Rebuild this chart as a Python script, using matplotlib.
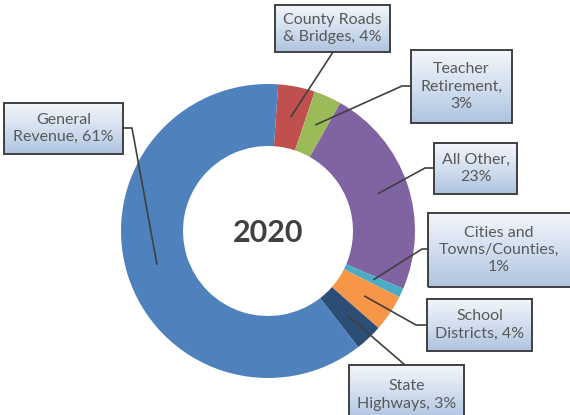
import numpy as np
import matplotlib
matplotlib.use('Agg')
import matplotlib.pyplot as plt
from matplotlib.colors import LinearSegmentedColormap
from matplotlib.patches import Rectangle

# Slices in clockwise order starting just right of 12 o'clock
categories = ['County Roads\n& Bridges', 'Teacher\nRetirement', 'All Other',
              'Cities and\nTowns/Counties', 'School\nDistricts', 'State\nHighways',
              'General\nRevenue']
shares = [4, 3, 23, 1, 4, 3, 61]
separators = [', ', ',\n', ',\n', ',\n', ', ', ', ', ', ']
colors = ['#C0504D', '#9BBB59', '#8064A2', '#4BACC6', '#F79646', '#2C4D75', '#4F81BD']

W, H = 570, 415
fig = plt.figure(figsize=(W / 100, H / 100), dpi=100)
ax = fig.add_axes([0, 0, 1, 1])

cx, cy, R, ring = 268, H - 231, 147, 62
start = 86
wedges, _ = ax.pie(shares, colors=colors, startangle=start, counterclock=False,
                   radius=R, center=(cx, cy),
                   wedgeprops=dict(width=ring, linewidth=0))
ax.set_xlim(0, W)
ax.set_ylim(0, H)
ax.axis('off')

ax.text(cx, cy - 2, '2020', ha='center', va='center', fontsize=22,
        fontweight='bold', color='#404040', family=['Lato', 'DejaVu Sans'])

# label boxes (left, top, right, bottom in pixels from top-left) and leader routes
boxes = [(275, 5, 390, 52), (411, 50, 512, 123), (434, 143, 517, 194),
         (428, 213, 575, 287), (427, 299, 532, 351), (349, 365, 464, 420),
         (4, 103, 123, 154)]
routes = [[(333, 52)], [(402, 86), (411, 86)], [(425, 168), (434, 168)],
          [(422, 249), (428, 249)], [(416, 325), (427, 325)], [(405, 365)],
          [(132, 128), (123, 128)]]

grad = np.linspace(0, 1, 64).reshape(-1, 1)
cmap = LinearSegmentedColormap.from_list('box', ['#F3F6FB', '#D3DFEF', '#AFC4E1'])

total = sum(shares)
cum = np.cumsum([0] + shares)
for i, (name, v) in enumerate(zip(categories, shares)):
    mid = np.deg2rad(start - 360 * (cum[i] + v / 2) / total)
    r_mid = R - ring / 2
    ax0 = cx + r_mid * np.cos(mid)
    ay0 = cy + r_mid * np.sin(mid)
    xs = [ax0] + [p[0] for p in routes[i]]
    ys = [ay0] + [H - p[1] for p in routes[i]]
    ax.plot(xs, ys, color='#404040', lw=1.2, zorder=3, solid_capstyle='butt')

    l, t, r, b = boxes[i]
    ax.imshow(grad, extent=[l, r, H - b, H - t], cmap=cmap, aspect='auto',
              origin='upper', zorder=4)
    ax.add_patch(Rectangle((l, H - b), r - l, b - t, fill=False,
                           edgecolor='#404040', lw=1.4, zorder=5))
    cyb = H - (b + t) / 2 if b <= H else H - (t + 425) / 2
    ax.text((l + min(r, W)) / 2, cyb, f'{name}{separators[i]}{v}%',
            ha='center', va='center', fontsize=11.5, color='#595959',
            linespacing=1.3, family=['Lato', 'DejaVu Sans'], zorder=6)

ax.set_xlim(0, W)
ax.set_ylim(0, H)
fig.savefig('out.png', dpi=100)
